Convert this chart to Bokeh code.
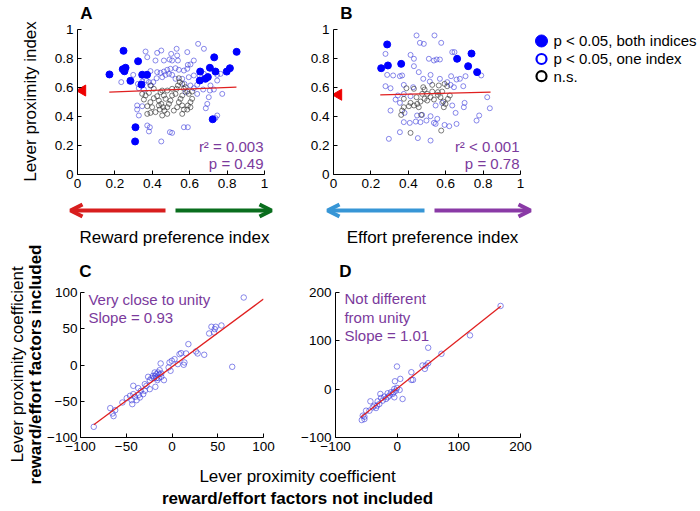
import math
from bokeh.plotting import figure
from bokeh.layouts import row, column
from bokeh.models import Range1d, FixedTicker, Label, Arrow, OpenHead
from bokeh.core.properties import value
from bokeh.embed import file_html
from bokeh.resources import INLINE

FONT = "Liberation Sans"
PURPLE = "#7b3a9c"
BLUE = "#0000ff"
OPENBLUE = "#3b3bdc"
BLACKPT = "#333333"

# ---------------- data ----------------
# Panel A (reward preference index vs lever proximity index)
a_both_x = [0.171, 0.246, 0.242, 0.257, 0.251, 0.283, 0.324, 0.346, 0.372, 0.342, 0.310, 0.308,
            0.656, 0.654, 0.684, 0.697, 0.708, 0.731, 0.738, 0.798, 0.815, 0.851, 0.723]
a_both_y = [0.690, 0.853, 0.726, 0.736, 0.712, 0.646, 0.781, 0.688, 0.688, 0.620, 0.326, 0.228,
            0.710, 0.648, 0.660, 0.672, 0.736, 0.808, 0.710, 0.710, 0.733, 0.846, 0.381]
a_one_x = [0.645, 0.676, 0.530, 0.448, 0.426, 0.364, 0.501, 0.373, 0.417, 0.462,
           0.492, 0.506, 0.537, 0.590, 0.604, 0.622, 0.587, 0.569, 0.542, 0.524,
           0.497, 0.480, 0.462, 0.444, 0.426, 0.390, 0.369, 0.346, 0.382, 0.405,
           0.423, 0.453, 0.471, 0.489, 0.506, 0.524, 0.560, 0.595, 0.622, 0.654,
           0.676, 0.747, 0.765, 0.711, 0.729, 0.672, 0.708, 0.774, 0.747, 0.234,
           0.323, 0.394, 0.328, 0.355, 0.640, 0.640, 0.702, 0.694, 0.686, 0.319,
           0.346, 0.319, 0.328, 0.747, 0.738, 0.373, 0.387, 0.382, 0.569, 0.590,
           0.494, 0.506, 0.448, 0.622, 0.604, 0.572, 0.578, 0.298, 0.587, 0.533]
a_one_y = [0.901, 0.867, 0.867, 0.855, 0.839, 0.848, 0.832, 0.809, 0.786, 0.786,
           0.793, 0.786, 0.786, 0.756, 0.759, 0.786, 0.729, 0.717, 0.722, 0.733,
           0.729, 0.722, 0.710, 0.701, 0.706, 0.713, 0.648, 0.641, 0.637, 0.637,
           0.664, 0.671, 0.687, 0.694, 0.687, 0.660, 0.660, 0.671, 0.683, 0.683,
           0.694, 0.687, 0.694, 0.614, 0.586, 0.586, 0.579, 0.556, 0.648, 0.637,
           0.625, 0.614, 0.595, 0.586, 0.556, 0.618, 0.533, 0.487, 0.457, 0.476,
           0.471, 0.448, 0.407, 0.407, 0.389, 0.338, 0.326, 0.297, 0.326, 0.326,
           0.292, 0.287, 0.228, 0.595, 0.614, 0.625, 0.568, 0.687, 0.844, 0.821]
a_ns_x = [0.346, 0.364, 0.382, 0.355, 0.390, 0.373, 0.399, 0.408, 0.426, 0.435,
          0.444, 0.453, 0.462, 0.471, 0.448, 0.458, 0.440, 0.465, 0.480, 0.489,
          0.497, 0.506, 0.524, 0.530, 0.537, 0.547, 0.542, 0.560, 0.569, 0.578,
          0.587, 0.595, 0.560, 0.551, 0.542, 0.560, 0.533, 0.569, 0.590, 0.604,
          0.613, 0.604, 0.587, 0.417, 0.453, 0.480, 0.515, 0.560, 0.390, 0.373,
          0.435, 0.408, 0.390, 0.506, 0.480, 0.613]
a_ns_y = [0.556, 0.545, 0.563, 0.517, 0.499, 0.471, 0.464, 0.526, 0.540, 0.510,
          0.568, 0.579, 0.545, 0.522, 0.487, 0.464, 0.448, 0.441, 0.464, 0.487,
          0.510, 0.545, 0.556, 0.591, 0.614, 0.637, 0.664, 0.625, 0.591, 0.602,
          0.572, 0.556, 0.545, 0.522, 0.499, 0.476, 0.464, 0.448, 0.476, 0.499,
          0.522, 0.464, 0.448, 0.430, 0.407, 0.418, 0.441, 0.418, 0.425, 0.418,
          0.476, 0.591, 0.614, 0.591, 0.579, 0.572]
a_fit_x = [0.17, 0.85]
a_fit_y = [0.568, 0.602]
a_mean_y = [0.579]
a_stats = ["r\u00b2 = 0.003", "p = 0.49"]

# Panel B (effort preference index vs lever proximity index)
b_both_x = [0.287, 0.255, 0.291, 0.362, 0.661, 0.738, 0.720, 0.768]
b_both_y = [0.897, 0.733, 0.752, 0.763, 0.798, 0.834, 0.747, 0.706]
b_one_x = [0.444, 0.540, 0.462, 0.483, 0.576, 0.278, 0.412, 0.430, 0.510, 0.551,
           0.569, 0.537, 0.635, 0.647, 0.430, 0.456, 0.319, 0.355, 0.367, 0.480,
           0.519, 0.569, 0.629, 0.658, 0.676, 0.706, 0.790, 0.515, 0.278, 0.305,
           0.376, 0.426, 0.608, 0.626, 0.644, 0.694, 0.822, 0.701, 0.836, 0.305,
           0.380, 0.447, 0.474, 0.519, 0.555, 0.497, 0.376, 0.408, 0.440, 0.465,
           0.537, 0.546, 0.594, 0.619, 0.658, 0.765, 0.779, 0.355,
           0.296, 0.451, 0.519, 0.376, 0.412, 0.344, 0.332, 0.653, 0.635, 0.546,
           0.581, 0.697, 0.355, 0.287]
b_one_y = [0.959, 0.959, 0.908, 0.901, 0.908, 0.832, 0.825, 0.798, 0.798, 0.793,
           0.793, 0.786, 0.844, 0.844, 0.747, 0.706, 0.683, 0.678, 0.683, 0.660,
           0.687, 0.660, 0.678, 0.655, 0.660, 0.678, 0.683, 0.641, 0.609, 0.595,
           0.618, 0.602, 0.637, 0.618, 0.602, 0.609, 0.533, 0.494, 0.457, 0.441,
           0.425, 0.407, 0.411, 0.402, 0.384, 0.372, 0.361, 0.356, 0.365, 0.361,
           0.356, 0.349, 0.342, 0.333, 0.349, 0.372, 0.407, 0.292,
           0.246, 0.251, 0.234, 0.556, 0.540, 0.545, 0.517, 0.425, 0.476, 0.476,
           0.494, 0.464, 0.494, 0.687]
b_ns_x = [0.390, 0.430, 0.480, 0.487, 0.528, 0.563, 0.594, 0.608, 0.412, 0.430,
          0.448, 0.456, 0.465, 0.487, 0.501, 0.519, 0.537, 0.558, 0.572, 0.587,
          0.599, 0.612, 0.622, 0.403, 0.376, 0.362, 0.469, 0.376, 0.444, 0.528,
          0.558, 0.474, 0.501, 0.581, 0.412, 0.576, 0.367, 0.590]
b_ns_y = [0.595, 0.591, 0.602, 0.586, 0.618, 0.614, 0.625, 0.609, 0.494, 0.476,
          0.487, 0.464, 0.503, 0.522, 0.510, 0.533, 0.517, 0.549, 0.533, 0.503,
          0.487, 0.522, 0.545, 0.471, 0.464, 0.411, 0.411, 0.522, 0.533, 0.572,
          0.568, 0.556, 0.556, 0.572, 0.287, 0.303, 0.441, 0.464]
b_fit_x = [0.25, 0.84]
b_fit_y = [0.549, 0.568]
b_mean_y = [0.55]
b_stats = ["r\u00b2 < 0.001", "p = 0.78"]

# Panel C (coefficients, reward factors)
c_x = [78.4, -85.5, -67.5, -65.0, -63.9, -62.1, -54.2, -49.5, -45.9, -42.3,
       -40.5, -44.1, -38.7, -36.2, -34.0, -31.5, -35.1, -43.4, -42.3, -36.9,
       -29.7, -27.9, -24.3, -29.7, -18.2, -24.3, -22.5, -26.1, -20.7, -18.2,
       -17.1, -15.3, -13.5, -11.7, -14.6, -16.0, -11.7, -8.8, -13.5, -19.6,
       -17.1, -18.9, -12.4, -1.6, -3.7, -2.7, -0.2, 2.8, 6.4, 8.2,
       10.0, 12.8, 13.6, 15.4, 17.9, 26.2, 28.0, 35.2, 65.8, 40.6,
       43.1, 46.7, 47.8, 54.0, 46.0]
c_y = [93.1, -85.3, -59.5, -66.9, -70.5, -62.3, -51.7, -45.7, -42.5, -40.2,
       -43.9, -48.5, -48.5, -41.1, -35.6, -40.2, -44.8, -54.0, -28.7, -31.9,
       -26.4, -28.7, -33.3, -35.6, -30.1, -20.9, -18.1, -16.3, -14.9, -14.9,
       -12.6, -10.3, -12.6, -16.3, -18.1, -20.9, -11.7, -20.9, -7.1, -18.1,
       -18.1, -10.3, 2.1, -8.0, -3.4, 3.5, 5.8, 8.1, 1.2, 15.0,
       16.4, 0.3, 3.5, 15.9, 28.8, 18.7, 15.9, 14.1, -2.5, 43.5,
       52.7, 49.5, 52.7, 54.5, 44.9]
c_fit_x = [-85.5, 100]
c_fit_y = [-82.5, 90.9]
c_note = ["Very close to unity", "Slope = 0.93"]

# Panel D (coefficients, effort factors)
d_x = [167.7, 118.1, 50.3, 71.8, 46.5, 50.3, 41.1, 44.9, -0.3, 23.0,
       23.0, 25.7, 5.1, -3.6, 4.0, 8.8, -1.9, -4.6, -5.7, -0.3,
       -15.4, -12.7, -20.8, -18.1, -26.2, -31.6, -28.9, -37.0, -34.3, -39.6,
       -43.4, -50.4, -45.0, -23.5, -15.4, -10.0, -7.3, -4.6, -27.3, -32.6,
       -55.8, -53.1, -57.4, -53.1]
d_y = [172.2, 111.3, 85.7, 73.2, 49.0, 53.8, 49.0, 42.0, 46.9, 35.1,
       19.2, 19.2, 21.3, 16.4, -1.6, -20.3, -3.0, 0.5, -6.4, 2.6,
       -8.5, -13.4, -15.4, -20.3, -18.2, -25.1, -30.7, -34.1, -39.0, -37.6,
       -25.1, -44.5, -44.5, -23.7, -16.8, -6.4, -9.9, -16.8, -9.9, -34.1,
       -54.9, -57.0, -63.9, -61.8]
d_fit_x = [-59, 168]
d_fit_y = [-58, 171.5]
d_note = ["Not different", "from unity", "Slope = 1.01"]

idx_ticks = [0, 0.2, 0.4, 0.6, 0.8, 1]
idx_labels = ["0", "0.2", "0.4", "0.6", "0.8", "1"]
c_ticks = [-100, -50, 0, 50, 100]
c_labels = ["\u2212100", "\u221250", "0", "50", "100"]
d_ticks = [-100, 0, 100, 200]
d_labels = ["\u2212100", "0", "100", "200"]
legend_labels = ["p < 0.05, both indices", "p < 0.05, one index", "n.s."]

# ---------------- layout constants (page pixels) ----------------
LW = 44                  # left label column width
RW = 654                 # right part width
H_TOP, H_ROW, H_MID, H_BOT = 21, 177, 86, 48
HT = H_TOP + H_ROW + H_MID + H_ROW + H_BOT
WA, WB = 254, 236
WL = RW - WA - WB
WC, WD = 254, 400
FH = 145
ROW1_Y = H_TOP
MID_Y = ROW1_Y + H_ROW
ROW2_Y = MID_Y + H_MID
BOT_Y = ROW2_Y + H_ROW


def panel(w, fl, fw, ft, start_x, start_y, xr, yr, xt, xl, yt, yl, ystand=4):
    bl = fl - start_x
    br = w - bl - fw
    bt = ft - start_y
    bb = H_ROW - bt - FH
    p = figure(width=w, height=H_ROW, x_range=Range1d(*xr), y_range=Range1d(*yr),
               output_backend="svg", toolbar_location=None,
               min_border_left=bl, min_border_right=br,
               min_border_top=bt, min_border_bottom=bb)
    p.grid.visible = False
    p.outline_line_color = None
    for ax, t, l, st in ((p.xaxis[0], xt, xl, 4), (p.yaxis[0], yt, yl, ystand)):
        ax.ticker = FixedTicker(ticks=t, minor_ticks=[])
        ax.major_label_overrides = dict(zip(t, l))
        ax.major_tick_in = 4
        ax.major_tick_out = 0
        ax.major_tick_line_color = "black"
        ax.minor_tick_line_color = None
        ax.axis_line_color = "black"
        ax.axis_line_width = 1
        ax.major_label_text_font = FONT
        ax.major_label_text_font_size = "13.5px"
        ax.major_label_text_color = "black"
        ax.major_label_standoff = st

    def dx(px):
        return xr[0] + (px - fl) / fw * (xr[1] - xr[0])

    def dy(py):
        return yr[0] + (ft + FH - py) / FH * (yr[1] - yr[0])
    return p, dx, dy


def inlabel(p, dx, dy, px, py, text, align="left"):
    p.add_layout(Label(x=dx(px), y=dy(py), text=text, text_font=FONT,
                       text_font_size="15px", text_color=PURPLE,
                       text_align=align, text_baseline="middle"))


def deco(w, h):
    p = figure(width=w, height=h, x_range=Range1d(0, w), y_range=Range1d(0, h),
               output_backend="svg", toolbar_location=None,
               x_axis_location=None, y_axis_location=None,
               min_border_left=0, min_border_right=0, min_border_top=0, min_border_bottom=0)
    p.grid.visible = False
    p.outline_line_color = None
    return p


def dtext(p, x0, y0, h, px, py, text, size="17px", bold=False, align="center",
          angle=0.0, color="black"):
    p.text([px - x0], [y0 + h - py], text=[text], angle=angle,
           text_font=value(FONT), text_font_size=value(size),
           text_font_style="bold" if bold else "normal",
           text_align=align, text_baseline="middle", text_color=color)


def index_panel(w, fl, start_x, both_x, both_y, one_x, one_y, ns_x, ns_y,
                fit_x, fit_y, mean_y, stats):
    p, dx, dy = panel(w, fl, 187, 29, start_x, ROW1_Y, (0, 1), (0, 1),
                      idx_ticks, idx_labels, idx_ticks, idx_labels)
    p.scatter(one_x, one_y, marker="circle", size=5, fill_color=None,
              line_color=OPENBLUE, line_alpha=0.75, line_width=0.8)
    p.scatter(ns_x, ns_y, marker="circle", size=5, fill_color=None,
              line_color=BLACKPT, line_alpha=0.8, line_width=0.8)
    p.scatter(both_x, both_y, marker="circle", size=7, fill_color=BLUE,
              line_color=BLUE)
    p.line(fit_x, fit_y, line_color="#e02020", line_width=1.3)
    p.scatter([dx(fl + 5)] * len(mean_y), mean_y, marker="triangle",
              angle=math.pi / 2, size=11, fill_color="#ee0000", line_color="#ee0000")
    inlabel(p, dx, dy, fl + 186, 146, stats[0], align="right")
    inlabel(p, dx, dy, fl + 186, 163, stats[1], align="right")
    return p


pA = index_panel(WA, 77, LW, a_both_x, a_both_y, a_one_x, a_one_y, a_ns_x, a_ns_y,
                 a_fit_x, a_fit_y, a_mean_y, a_stats)
pB = index_panel(WB, 333, LW + WA, b_both_x, b_both_y, b_one_x, b_one_y, b_ns_x, b_ns_y,
                 b_fit_x, b_fit_y, b_mean_y, b_stats)

# legend
pL = deco(WL, H_ROW)
Lx0 = LW + WA + WB
leg_y = [ROW1_Y + H_ROW - 35, ROW1_Y + H_ROW - 57, ROW1_Y + H_ROW - 78]
pL.scatter([541 - Lx0], [leg_y[0]], marker="circle", size=12, fill_color=BLUE, line_color=BLUE)
pL.scatter([541 - Lx0], [leg_y[1]], marker="circle", size=10, fill_color=None,
           line_color=BLUE, line_width=2.2)
pL.scatter([541 - Lx0], [leg_y[2]], marker="circle", size=10, fill_color=None,
           line_color="black", line_width=2.2)
pL.text([553 - Lx0] * 3, leg_y, text=legend_labels, text_font=value(FONT),
        text_font_size=value("15px"), text_baseline="middle", text_color="black")

# panel C
pC, cdx, cdy = panel(WC, 78, 185, 292, LW, ROW2_Y, (-100, 100), (-100, 100),
                     c_ticks, c_labels, c_ticks, c_labels, ystand=3)
pC.scatter(c_x, c_y, marker="circle", size=5.5, fill_color=None,
           line_color=OPENBLUE, line_alpha=0.75, line_width=0.8)
pC.line(c_fit_x, c_fit_y, line_color="#e02020", line_width=1.3)
for i, t in enumerate(c_note):
    inlabel(pC, cdx, cdy, 86, 299 + 18 * i, t)

# panel D
pD, ddx, ddy = panel(WD, 334, 186, 292, LW + WC, ROW2_Y, (-100, 200), (-100, 200),
                     d_ticks, d_labels, d_ticks, d_labels)
pD.scatter(d_x, d_y, marker="circle", size=5.5, fill_color=None,
           line_color=OPENBLUE, line_alpha=0.75, line_width=0.8)
pD.line(d_fit_x, d_fit_y, line_color="#e02020", line_width=1.3)
for i, t in enumerate(d_note):
    inlabel(pD, ddx, ddy, 343, 298 + 18.5 * i, t)

# top strip: panel letters A, B
pTop = deco(RW, H_TOP)
dtext(pTop, LW, 0, H_TOP, 86, 12.5, "A", bold=True)
dtext(pTop, LW, 0, H_TOP, 346, 12.5, "B", bold=True)

# middle strip: arrows, index labels, letters C, D
pMid = deco(RW, H_MID)
for (x0, x1, c) in [(165, 70, "#d81e1e"), (175, 271, "#0a6e1e"),
                    (424, 327, "#3796d6"), (434, 530, "#8a3aa6")]:
    yy = MID_Y + H_MID - 210
    pMid.add_layout(Arrow(end=OpenHead(size=12, line_color=c, line_width=4),
                          x_start=x0 - LW, y_start=yy, x_end=x1 - LW, y_end=yy,
                          line_color=c, line_width=4))
dtext(pMid, LW, MID_Y, H_MID, 174, 237, "Reward preference index")
dtext(pMid, LW, MID_Y, H_MID, 432, 237, "Effort preference index")
dtext(pMid, LW, MID_Y, H_MID, 85, 271, "C", bold=True)
dtext(pMid, LW, MID_Y, H_MID, 345, 271, "D", bold=True)

# bottom strip
pBot = deco(RW, H_BOT)
dtext(pBot, LW, BOT_Y, H_BOT, 297, 476, "Lever proximity coefficient")
dtext(pBot, LW, BOT_Y, H_BOT, 297, 498, "reward/effort factors not included", bold=True)

# left label column
pLeft = deco(LW, HT)
dtext(pLeft, 0, 0, HT, 30, 101, "Lever proximity index", angle=math.pi / 2)
dtext(pLeft, 0, 0, HT, 17, 364, "Lever proximity coefficient", angle=math.pi / 2)
dtext(pLeft, 0, 0, HT, 34.5, 364, "reward/effort factors included", bold=True,
      angle=math.pi / 2)

layout = row(pLeft, column(pTop, row(pA, pB, pL), pMid, row(pC, pD), pBot))
open("out.html", "w").write(file_html(layout, INLINE))
